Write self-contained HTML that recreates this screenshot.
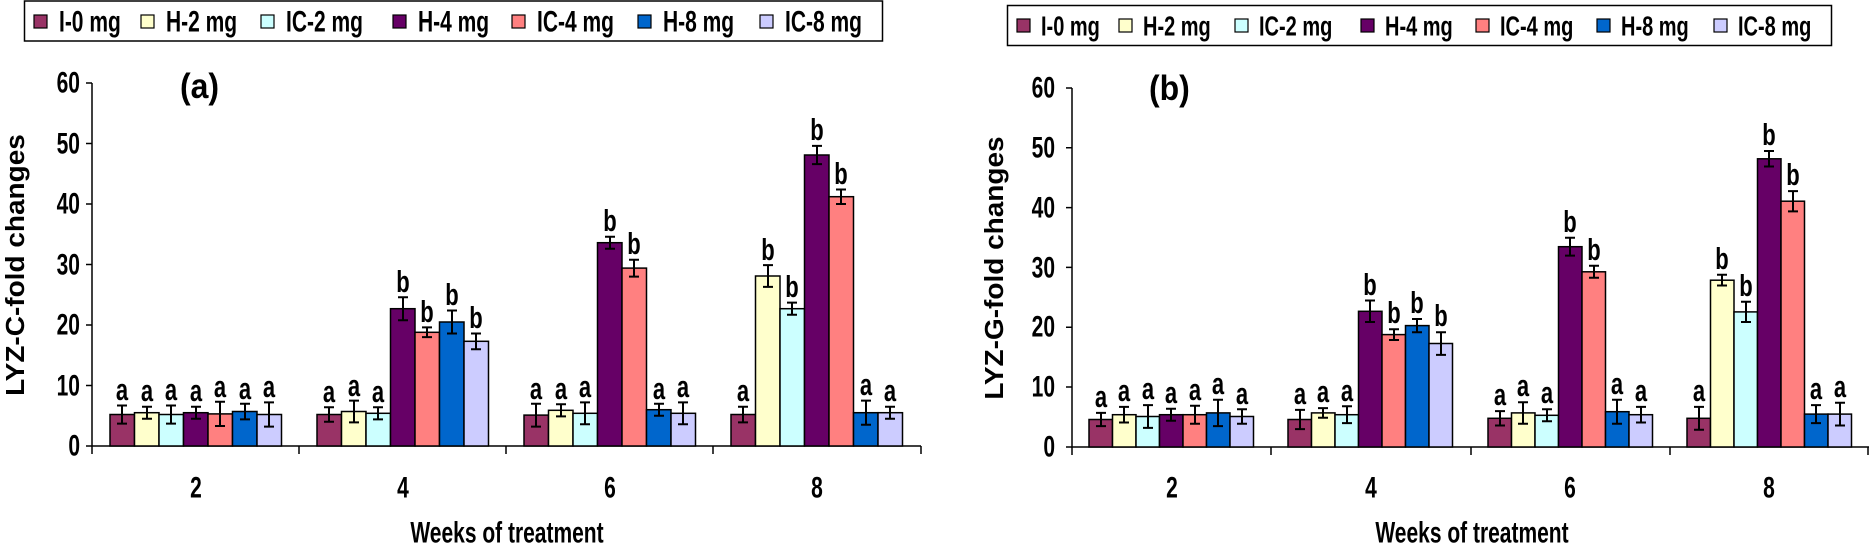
<!DOCTYPE html>
<html><head><meta charset="utf-8"><style>
html,body{margin:0;padding:0;background:#fff;}
svg{display:block;font-family:"Liberation Sans",Arial,sans-serif;font-weight:bold;}
text{transform-box:fill-box;transform-origin:center;transform:scaleY(1.4);}
text.t{transform:scaleY(1.1);}
text.yt{transform:scale(1.4,1.3);}
</style></head><body>
<svg width="1869" height="549" viewBox="0 0 1869 549" xmlns="http://www.w3.org/2000/svg">
<!-- LEFT LEGEND -->
<rect x="24.5" y="1" width="858" height="40" fill="#fff" stroke="#000" stroke-width="1.5"/>
<g stroke="#000" stroke-width="1.2">
<rect x="34" y="15" width="13" height="13" fill="#993366"/>
<rect x="141" y="15" width="13" height="13" fill="#FFFFCC"/>
<rect x="261" y="15" width="13" height="13" fill="#CCFFFF"/>
<rect x="393" y="15" width="13" height="13" fill="#660066"/>
<rect x="512" y="15" width="13" height="13" fill="#FF8080"/>
<rect x="638" y="15" width="13" height="13" fill="#0066CC"/>
<rect x="760" y="15" width="13" height="13" fill="#CCCCFF"/>
</g>
<g font-size="21">
<text x="59" y="29">I-0 mg</text><text x="166" y="29">H-2 mg</text><text x="286" y="29">IC-2 mg</text><text x="418" y="29">H-4 mg</text><text x="537" y="29">IC-4 mg</text><text x="663" y="29">H-8 mg</text><text x="785" y="29">IC-8 mg</text>
</g>
<!-- RIGHT LEGEND -->
<rect x="1007.5" y="5.5" width="824" height="40" fill="#fff" stroke="#000" stroke-width="1.5"/>
<g stroke="#000" stroke-width="1.2">
<rect x="1017" y="19" width="13" height="13" fill="#993366"/>
<rect x="1119" y="19" width="13" height="13" fill="#FFFFCC"/>
<rect x="1235" y="19" width="13" height="13" fill="#CCFFFF"/>
<rect x="1361" y="19" width="13" height="13" fill="#660066"/>
<rect x="1476" y="19" width="13" height="13" fill="#FF8080"/>
<rect x="1597" y="19" width="13" height="13" fill="#0066CC"/>
<rect x="1714" y="19" width="13" height="13" fill="#CCCCFF"/>
</g>
<g font-size="20">
<text x="1041" y="33">I-0 mg</text><text x="1143" y="33">H-2 mg</text><text x="1259" y="33">IC-2 mg</text><text x="1385" y="33">H-4 mg</text><text x="1500" y="33">IC-4 mg</text><text x="1621" y="33">H-8 mg</text><text x="1738" y="33">IC-8 mg</text>
</g>

<!-- LEFT AXES -->
<g stroke="#000" stroke-width="1.5" fill="none">
<path d="M92 83V446H921"/>
<path d="M86 83H92M86 143.5H92M86 204H92M86 264.5H92M86 325H92M86 385.5H92M86 446H92"/>
<path d="M92 446V454M299 446V454M506 446V454M713 446V454M921 446V454"/>
</g>
<g font-size="21" text-anchor="end">
<text x="80" y="90">60</text><text x="80" y="151">50</text><text x="80" y="211">40</text><text x="80" y="272">30</text><text x="80" y="332">20</text><text x="80" y="393">10</text><text x="80" y="453">0</text>
</g>
<text class="t" x="180" y="97" font-size="32">(a)</text>
<g transform="translate(22,265) rotate(-90)"><text class="yt" x="0" y="0" font-size="20" text-anchor="middle">LYZ-C-fold changes</text></g>
<g font-size="21" text-anchor="middle">
<text x="196" y="495">2</text><text x="403" y="495">4</text><text x="610" y="495">6</text><text x="817" y="495">8</text>
<text x="507" y="540">Weeks of treatment</text>
</g>

<!-- LEFT BARS -->
<g stroke="#000" stroke-width="1.5">
<rect x="110" y="414.5" width="24.5" height="31.5" fill="#993366"/>
<rect x="134.5" y="412.7" width="24.5" height="33.3" fill="#FFFFCC"/>
<rect x="159" y="414.5" width="24.5" height="31.5" fill="#CCFFFF"/>
<rect x="183.5" y="412.7" width="24.5" height="33.3" fill="#660066"/>
<rect x="208" y="413.9" width="24.5" height="32.1" fill="#FF8080"/>
<rect x="232.5" y="411.5" width="24.5" height="34.5" fill="#0066CC"/>
<rect x="257" y="414.5" width="24.5" height="31.5" fill="#CCCCFF"/>

<rect x="317" y="414.5" width="24.5" height="31.5" fill="#993366"/>
<rect x="341.5" y="411.5" width="24.5" height="34.5" fill="#FFFFCC"/>
<rect x="366" y="413.3" width="24.5" height="32.7" fill="#CCFFFF"/>
<rect x="390.5" y="308.7" width="24.5" height="137.3" fill="#660066"/>
<rect x="415" y="332.3" width="24.5" height="113.7" fill="#FF8080"/>
<rect x="439.5" y="322" width="24.5" height="124" fill="#0066CC"/>
<rect x="464" y="341.3" width="24.5" height="104.7" fill="#CCCCFF"/>

<rect x="524" y="415.1" width="24.5" height="30.9" fill="#993366"/>
<rect x="548.5" y="410.3" width="24.5" height="35.7" fill="#FFFFCC"/>
<rect x="573" y="413.3" width="24.5" height="32.7" fill="#CCFFFF"/>
<rect x="597.5" y="242.7" width="24.5" height="203.3" fill="#660066"/>
<rect x="622" y="268.1" width="24.5" height="177.9" fill="#FF8080"/>
<rect x="646.5" y="409.7" width="24.5" height="36.3" fill="#0066CC"/>
<rect x="671" y="413.3" width="24.5" height="32.7" fill="#CCCCFF"/>

<rect x="731" y="414.5" width="24.5" height="31.5" fill="#993366"/>
<rect x="755.5" y="276" width="24.5" height="170" fill="#FFFFCC"/>
<rect x="780" y="308.7" width="24.5" height="137.3" fill="#CCFFFF"/>
<rect x="804.5" y="155" width="24.5" height="291" fill="#660066"/>
<rect x="829" y="196.7" width="24.5" height="249.3" fill="#FF8080"/>
<rect x="853.5" y="412.7" width="24.5" height="33.3" fill="#0066CC"/>
<rect x="878" y="412.7" width="24.5" height="33.3" fill="#CCCCFF"/>
</g>
<g stroke="#000" stroke-width="2" fill="none">
<path d="M122 405.5V423.6M117 405.5H127M117 423.6H127"/>
<path d="M147 406.7V418.8M142 406.7H152M142 418.8H152"/>
<path d="M171 405.5V423.6M166 405.5H176M166 423.6H176"/>
<path d="M196 406.7V418.8M191 406.7H201M191 418.8H201"/>
<path d="M220 401.8V426M215 401.8H225M215 426H225"/>
<path d="M245 403.7V419.4M240 403.7H250M240 419.4H250"/>
<path d="M269 402.4V426.6M264 402.4H274M264 426.6H274"/>

<path d="M329 407.3V421.8M324 407.3H334M324 421.8H334"/>
<path d="M354 400.6V422.4M349 400.6H359M349 422.4H359"/>
<path d="M378 407.3V419.4M373 407.3H383M373 419.4H383"/>
<path d="M403 297.2V320.2M398 297.2H408M398 320.2H408"/>
<path d="M427 327.4V337.1M422 327.4H432M422 337.1H432"/>
<path d="M452 310.5V333.5M447 310.5H457M447 333.5H457"/>
<path d="M476 333.5V349.2M471 333.5H481M471 349.2H481"/>

<path d="M536 403.7V426.6M531 403.7H541M531 426.6H541"/>
<path d="M561 404.3V416.4M556 404.3H566M556 416.4H566"/>
<path d="M585 402.4V424.2M580 402.4H590M580 424.2H590"/>
<path d="M610 236.7V248.8M605 236.7H615M605 248.8H615"/>
<path d="M634 259.7V276.6M629 259.7H639M629 276.6H639"/>
<path d="M659 403.7V415.8M654 403.7H664M654 415.8H664"/>
<path d="M683 402.4V424.2M678 402.4H688M678 424.2H688"/>

<path d="M743 406.7V422.4M738 406.7H748M738 422.4H748"/>
<path d="M768 265.1V286.9M763 265.1H773M763 286.9H773"/>
<path d="M792 302.6V314.7M787 302.6H797M787 314.7H797"/>
<path d="M817 145.9V164.1M812 145.9H822M812 164.1H822"/>
<path d="M841 189.5V204M836 189.5H846M836 204H846"/>
<path d="M866 400.6V424.8M861 400.6H871M861 424.8H871"/>
<path d="M890 406.7V418.8M885 406.7H895M885 418.8H895"/>
</g>
<g font-size="22" text-anchor="middle">
<text x="122" y="397">a</text><text x="147" y="398">a</text><text x="171" y="397">a</text><text x="196" y="398">a</text><text x="220" y="394">a</text><text x="245" y="396">a</text><text x="269" y="394">a</text>
<text x="329" y="399">a</text><text x="354" y="393">a</text><text x="378" y="399">a</text><text x="403" y="289">b</text><text x="427" y="319">b</text><text x="452" y="302">b</text><text x="476" y="325">b</text>
<text x="536" y="396">a</text><text x="561" y="396">a</text><text x="585" y="394">a</text><text x="610" y="228">b</text><text x="634" y="251">b</text><text x="659" y="396">a</text><text x="683" y="394">a</text>
<text x="743" y="398">a</text><text x="768" y="257">b</text><text x="792" y="294">b</text><text x="817" y="137">b</text><text x="841" y="181">b</text><text x="866" y="392">a</text><text x="890" y="398">a</text>
</g>

<!-- RIGHT AXES -->
<g stroke="#000" stroke-width="1.5" fill="none">
<path d="M1072 88V447H1869"/>
<path d="M1066 88H1072M1066 147.8H1072M1066 207.6H1072M1066 267.4H1072M1066 327.2H1072M1066 387H1072M1066 447H1072"/>
<path d="M1072 447V455M1271 447V455M1471 447V455M1670 447V455M1868 447V455"/>
</g>
<g font-size="21" text-anchor="end">
<text x="1055" y="95">60</text><text x="1055" y="155">50</text><text x="1055" y="215">40</text><text x="1055" y="275">30</text><text x="1055" y="334">20</text><text x="1055" y="394">10</text><text x="1055" y="454">0</text>
</g>
<text class="t" x="1149" y="99" font-size="32">(b)</text>
<g transform="translate(1001,268) rotate(-90)"><text class="yt" x="0" y="0" font-size="20" text-anchor="middle">LYZ-G-fold changes</text></g>
<g font-size="21" text-anchor="middle">
<text x="1172" y="495">2</text><text x="1371" y="495">4</text><text x="1570" y="495">6</text><text x="1769" y="495">8</text>
<text x="1472" y="540">Weeks of treatment</text>
</g>

<!-- RIGHT BARS -->
<g stroke="#000" stroke-width="1.5">
<rect x="1089" y="419.5" width="23.5" height="27.5" fill="#993366"/>
<rect x="1112.5" y="414.7" width="23.5" height="32.3" fill="#FFFFCC"/>
<rect x="1136" y="416.5" width="23.5" height="30.5" fill="#CCFFFF"/>
<rect x="1159.5" y="414.7" width="23.5" height="32.3" fill="#660066"/>
<rect x="1183" y="414.7" width="23.5" height="32.3" fill="#FF8080"/>
<rect x="1206.5" y="412.9" width="23.5" height="34.1" fill="#0066CC"/>
<rect x="1230" y="416.5" width="23.5" height="30.5" fill="#CCCCFF"/>

<rect x="1288" y="419.5" width="23.5" height="27.5" fill="#993366"/>
<rect x="1311.5" y="412.9" width="23.5" height="34.1" fill="#FFFFCC"/>
<rect x="1335" y="414.7" width="23.5" height="32.3" fill="#CCFFFF"/>
<rect x="1358.5" y="311.3" width="23.5" height="135.7" fill="#660066"/>
<rect x="1382" y="334.6" width="23.5" height="112.4" fill="#FF8080"/>
<rect x="1405.5" y="325.6" width="23.5" height="121.4" fill="#0066CC"/>
<rect x="1429" y="343.5" width="23.5" height="103.5" fill="#CCCCFF"/>

<rect x="1488" y="418.3" width="23.5" height="28.7" fill="#993366"/>
<rect x="1511.5" y="412.9" width="23.5" height="34.1" fill="#FFFFCC"/>
<rect x="1535" y="415.3" width="23.5" height="31.7" fill="#CCFFFF"/>
<rect x="1558.5" y="246.7" width="23.5" height="200.3" fill="#660066"/>
<rect x="1582" y="271.8" width="23.5" height="175.2" fill="#FF8080"/>
<rect x="1605.5" y="411.7" width="23.5" height="35.3" fill="#0066CC"/>
<rect x="1629" y="414.7" width="23.5" height="32.3" fill="#CCCCFF"/>

<rect x="1687" y="418.3" width="23.5" height="28.7" fill="#993366"/>
<rect x="1710.5" y="280.2" width="23.5" height="166.8" fill="#FFFFCC"/>
<rect x="1734" y="311.9" width="23.5" height="135.1" fill="#CCFFFF"/>
<rect x="1757.5" y="158.8" width="23.5" height="288.2" fill="#660066"/>
<rect x="1781" y="201.2" width="23.5" height="245.8" fill="#FF8080"/>
<rect x="1804.5" y="414.1" width="23.5" height="32.9" fill="#0066CC"/>
<rect x="1828" y="414.1" width="23.5" height="32.9" fill="#CCCCFF"/>
</g>
<g stroke="#000" stroke-width="2" fill="none">
<path d="M1101 412.9V426.1M1096 412.9H1106M1096 426.1H1106"/>
<path d="M1124 406.9V422.5M1119 406.9H1129M1119 422.5H1129"/>
<path d="M1148 405.1V427.9M1143 405.1H1153M1143 427.9H1153"/>
<path d="M1171 408.7V420.7M1166 408.7H1176M1166 420.7H1176"/>
<path d="M1195 405.7V423.7M1190 405.7H1200M1190 423.7H1200"/>
<path d="M1218 399.8V426.1M1213 399.8H1223M1213 426.1H1223"/>
<path d="M1242 409.3V423.7M1237 409.3H1247M1237 423.7H1247"/>

<path d="M1300 409.9V429.1M1295 409.9H1305M1295 429.1H1305"/>
<path d="M1323 408.1V417.7M1318 408.1H1328M1318 417.7H1328"/>
<path d="M1347 406.3V423.1M1342 406.3H1352M1342 423.1H1352"/>
<path d="M1370 300.5V322M1365 300.5H1375M1365 322H1375"/>
<path d="M1394 329.2V340M1389 329.2H1399M1389 340H1399"/>
<path d="M1417 319V332.2M1412 319H1422M1412 332.2H1422"/>
<path d="M1441 332.2V354.9M1436 332.2H1446M1436 354.9H1446"/>

<path d="M1500 411.1V425.5M1495 411.1H1505M1495 425.5H1505"/>
<path d="M1523 402.2V423.7M1518 402.2H1528M1518 423.7H1528"/>
<path d="M1547 409.3V421.3M1542 409.3H1552M1542 421.3H1552"/>
<path d="M1570 237.7V255.6M1565 237.7H1575M1565 255.6H1575"/>
<path d="M1594 265.8V277.8M1589 265.8H1599M1589 277.8H1599"/>
<path d="M1617 399.8V423.7M1612 399.8H1622M1612 423.7H1622"/>
<path d="M1641 406.9V422.5M1636 406.9H1646M1636 422.5H1646"/>

<path d="M1699 406.9V429.7M1694 406.9H1704M1694 429.7H1704"/>
<path d="M1722 274.8V285.5M1717 274.8H1727M1717 285.5H1727"/>
<path d="M1746 301.7V322M1741 301.7H1751M1741 322H1751"/>
<path d="M1769 151V166.5M1764 151H1774M1764 166.5H1774"/>
<path d="M1793 191.1V211.4M1788 191.1H1798M1788 211.4H1798"/>
<path d="M1816 405.1V423.1M1811 405.1H1821M1811 423.1H1821"/>
<path d="M1840 402.7V425.5M1835 402.7H1845M1835 425.5H1845"/>
</g>
<g font-size="22" text-anchor="middle">
<text x="1101" y="404">a</text><text x="1124" y="398">a</text><text x="1148" y="396">a</text><text x="1171" y="400">a</text><text x="1195" y="397">a</text><text x="1218" y="391">a</text><text x="1242" y="401">a</text>
<text x="1300" y="401">a</text><text x="1323" y="399">a</text><text x="1347" y="398">a</text><text x="1370" y="292">b</text><text x="1394" y="320">b</text><text x="1417" y="310">b</text><text x="1441" y="323">b</text>
<text x="1500" y="402">a</text><text x="1523" y="393">a</text><text x="1547" y="400">a</text><text x="1570" y="229">b</text><text x="1594" y="257">b</text><text x="1617" y="391">a</text><text x="1641" y="398">a</text>
<text x="1699" y="398">a</text><text x="1722" y="266">b</text><text x="1746" y="293">b</text><text x="1769" y="142">b</text><text x="1793" y="182">b</text><text x="1816" y="396">a</text><text x="1840" y="394">a</text>
</g>
</svg>
</body></html>
